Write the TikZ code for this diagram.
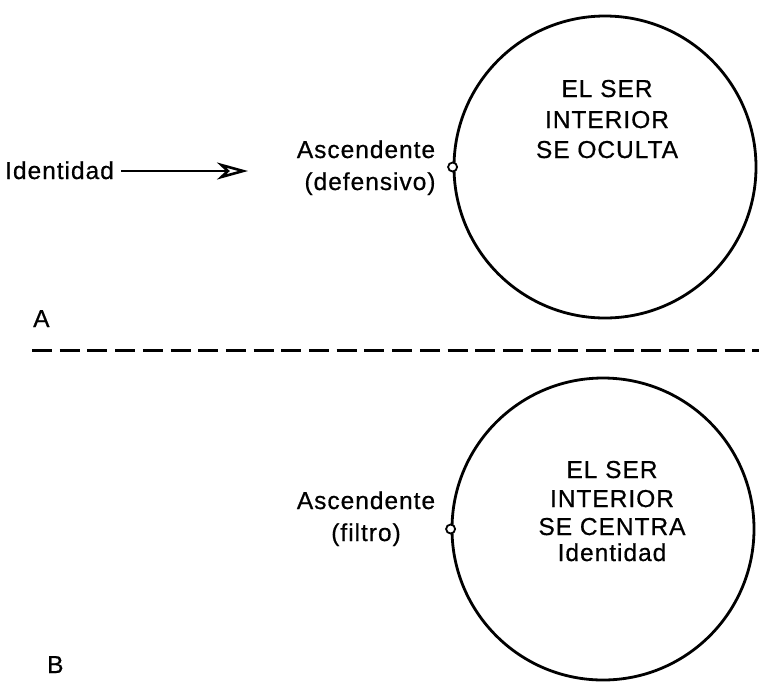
\documentclass[tikz,border=0pt]{standalone}
\usepackage{fontspec}
\setmainfont{Liberation Sans}[LetterSpace=4, FakeBold=0.6]
\usetikzlibrary{arrows.meta}
\begin{document}
\begin{tikzpicture}[x=1pt,y=-1pt,
  lbl/.style={inner sep=0pt, anchor=base, font=\fontsize{24.5}{29}\selectfont},
  big/.style={circle, draw, line width=2.8pt, minimum size=302pt, inner sep=0pt},
  dot/.style={circle, draw, fill=white, line width=1.8pt, minimum size=9pt, inner sep=0pt},
  sep/.style={line width=3pt, dash pattern=on 20pt off 7.7pt}]
\useasboundingbox (0,0) rectangle (759,681);
% Panel A
\node[big] (c1) at (605,167) {};
\node[dot] (s1) at (c1.west) {};
\node[lbl] (t1a) at (607,97) {EL SER};
\node[lbl] (t1b) at (607,128) {INTERIOR};
\node[lbl] (t1c) at (607,158) {SE OCULTA};
\node[lbl] (a1a) at (366,158) {Ascendente};
\node[lbl] (a1b) at (370,190) {(defensivo)};
\node[lbl, anchor=base west] (id1) at (5,179) {Identidad};
\coordinate (arr) at (248,171);
\draw[line width=2.2pt, -{Stealth[open, length=31pt, width=17pt, inset=9pt, line width=2.6pt]}] (id1.east |- arr) ++(7,0) -- (arr);
\node[lbl, anchor=base west] (la) at (33,327) {A};
% separator
\coordinate (d0) at (32,350);
\coordinate (d1) at (759,350);
\draw[sep] (d0) -- (d1);
% Panel B
\node[big] (c2) at (603,529) {};
\node[dot] (s2) at (c2.west) {};
\node[lbl] (t2a) at (612,478) {EL SER};
\node[lbl] (t2b) at (612,507) {INTERIOR};
\node[lbl] (t2c) at (612,535) {SE CENTRA};
\node[lbl] (t2d) at (612,561) {Identidad};
\node[lbl] (a2a) at (366,509) {Ascendente};
\node[lbl] (a2b) at (366,541) {(filtro)};
\node[lbl, anchor=base west] (lb) at (47,673) {B};
\end{tikzpicture}
\end{document}
